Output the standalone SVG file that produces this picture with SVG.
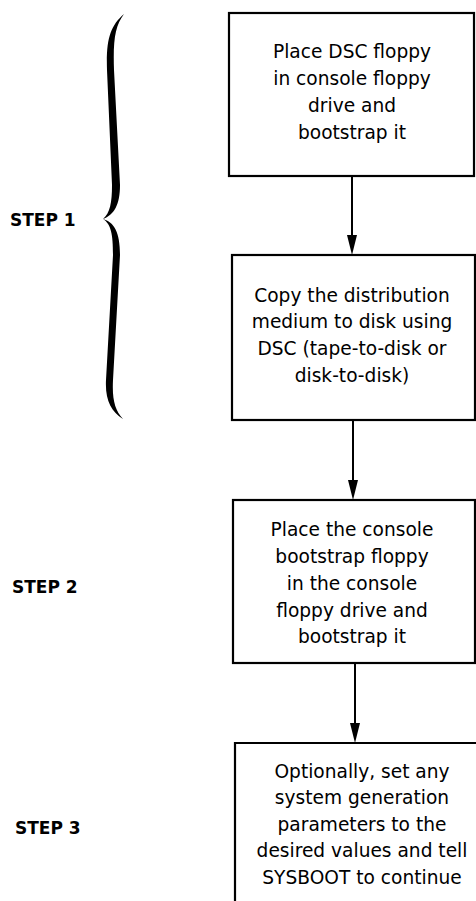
<svg xmlns="http://www.w3.org/2000/svg" width="476" height="901" viewBox="0 0 476 901">
<defs>
<style>
.box{fill:none;stroke:#000;stroke-width:2.2}
.t{font-family:"DejaVu Sans",sans-serif;font-size:18.6px;text-anchor:middle;fill:#000}
.step{font-family:"DejaVu Sans",sans-serif;font-size:17px;font-weight:bold;fill:#000}
.ln{stroke:#000;stroke-width:2;fill:none}
.hd{fill:#000}
</style>
</defs>
<rect width="476" height="901" fill="#fff"/>
<g id="brace">
<path d="M124,14 C110,26 106,40 107,70 L112,185 C112,203 110,213 103,219 C111,224 113,234 113,255 L106,380 C105,400 111,411 123,419 C115,410 112,400 113,380 L120,255 C120,232 114,222 103,219 C114,215 120,205 120,185 L114,70 C113,40 115,26 124,14 Z" fill="#000"/>
</g>
<g id="labels">
<text class="step" x="10" y="226">STEP 1</text>
<text class="step" x="12" y="593">STEP 2</text>
<text class="step" x="15" y="834">STEP 3</text>
</g>
<g id="connectors">
<line class="ln" x1="352" y1="176" x2="352" y2="240"/>
<polygon class="hd" points="347,235 357,235 352,255"/>
<line class="ln" x1="353" y1="420" x2="353" y2="485"/>
<polygon class="hd" points="348,480 358,480 353,500"/>
<line class="ln" x1="355" y1="663" x2="355" y2="728"/>
<polygon class="hd" points="350,723 360,723 355,743"/>
</g>
<g id="node1">
<rect class="box" x="229" y="13" width="245" height="163"/>
<text class="t" x="352" y="58">Place DSC floppy</text>
<text class="t" x="352" y="85">in console floppy</text>
<text class="t" x="352" y="112">drive and</text>
<text class="t" x="352" y="139">bootstrap it</text>
</g>
<g id="node2">
<rect class="box" x="232" y="255" width="243" height="165"/>
<text class="t" x="352" y="302">Copy the distribution</text>
<text class="t" x="352" y="328">medium to disk using</text>
<text class="t" x="352" y="355">DSC (tape-to-disk or</text>
<text class="t" x="352" y="382">disk-to-disk)</text>
</g>
<g id="node3">
<rect class="box" x="233" y="500" width="242" height="163"/>
<text class="t" x="352" y="536">Place the console</text>
<text class="t" x="352" y="563">bootstrap floppy</text>
<text class="t" x="352" y="590">in the console</text>
<text class="t" x="352" y="617">floppy drive and</text>
<text class="t" x="352" y="643">bootstrap it</text>
</g>
<g id="node4">
<path class="box" d="M235,905 V743 H480"/>
<text class="t" x="362" y="778">Optionally, set any</text>
<text class="t" x="362" y="804">system generation</text>
<text class="t" x="362" y="831">parameters to the</text>
<text class="t" x="362" y="857">desired values and tell</text>
<text class="t" x="362" y="884">SYSBOOT to continue</text>
</g>
</svg>
